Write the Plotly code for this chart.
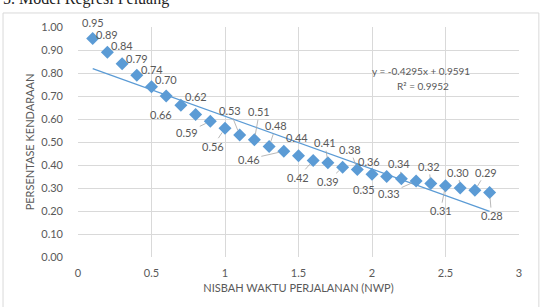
import numpy as np
import plotly.graph_objects as go

# ---- data ----
nwp = [0.1, 0.2, 0.3, 0.4, 0.5, 0.6, 0.7, 0.8, 0.9, 1.0,
       1.1, 1.2, 1.3, 1.4, 1.5, 1.6, 1.7, 1.8, 1.9, 2.0,
       2.1, 2.2, 2.3, 2.4, 2.5, 2.6, 2.7, 2.8]
persen = [0.95, 0.89, 0.84, 0.79, 0.74, 0.70, 0.66, 0.62, 0.59, 0.56,
          0.53, 0.51, 0.48, 0.46, 0.44, 0.42, 0.41, 0.39, 0.38, 0.36,
          0.35, 0.34, 0.33, 0.32, 0.31, 0.30, 0.29, 0.28]
x_ticks = [0, 0.5, 1, 1.5, 2, 2.5, 3]
x_tick_text = ["0", "0.5", "1", "1.5", "2", "2.5", "3"]
y_ticks = [0.0, 0.1, 0.2, 0.3, 0.4, 0.5, 0.6, 0.7, 0.8, 0.9, 1.0]
eq_text = "y = -0.4295x + 0.9591"
r2_text = "R² = 0.9952"
title_text = "5. Model Regresi Peluang"
x_title = "NISBAH WAKTU PERJALANAN (NWP)"
y_title = "PERSENTASE KENDARAAN"

# label offsets (pixels) and leader-line flags, Excel style placement
label_dx = [0, 0, 0, 0, 0, 0, -20, 0, -23, -12,
            -10, 5, 7, -35, -2, -15, -3, -15, -7, -3,
            -23, -2, -27, -2, -5, -2, 11, 2]
label_dy = [-16, -18, -18, -17, -17, -17, 9, -18, 11, 18,
            -25, -28, -21, 8, -18, 17, -20, 14, -20, -13,
            13, -15, 12, -17, 25, -16, -18, 23]
leader = [0, 0, 0, 0, 0, 0, 0, 0, 1, 1,
          1, 1, 1, 1, 0, 1, 1, 1, 1, 0,
          0, 1, 1, 1, 1, 1, 1, 1]

BLUE = "#5B9BD5"
TXT = "#595959"
GRID = "#D9D9D9"
FONT = "Lato, Open Sans, sans-serif"

fig = go.Figure()

# linear trendline from least squares fit of the data
slope, intercept = np.polyfit(nwp, persen, 1)
tx = [min(nwp), max(nwp)]
ty = [slope * v + intercept for v in tx]
fig.add_trace(go.Scatter(x=tx, y=ty, mode="lines",
                         line=dict(color=BLUE, width=1.3),
                         hoverinfo="skip", showlegend=False))

fig.add_trace(go.Scatter(x=nwp, y=persen, mode="markers",
                         marker=dict(symbol="diamond", size=10, color=BLUE),
                         showlegend=False))

for xv, yv, dx, dy, ld in zip(nwp, persen, label_dx, label_dy, leader):
    fig.add_annotation(x=xv, y=yv, text=f"{yv:.2f}", xref="x", yref="y",
                       showarrow=True, ax=dx, ay=dy, arrowhead=0,
                       arrowwidth=0.8, standoff=5,
                       arrowcolor="#A6A6A6" if ld else "rgba(0,0,0,0)",
                       font=dict(family=FONT, size=11, color=TXT))

fig.add_annotation(x=2.333, y=0.809, text=eq_text, showarrow=False,
                   xref="x", yref="y",
                   font=dict(family=FONT, size=10, color=TXT))
fig.add_annotation(x=2.347, y=0.743, text=r2_text, showarrow=False,
                   xref="x", yref="y",
                   font=dict(family=FONT, size=10, color=TXT))

# cropped caption at top
fig.add_annotation(x=-0.175, y=1.075, xref="paper", yref="paper",
                   xanchor="left", yanchor="bottom", text=title_text,
                   showarrow=False,
                   font=dict(family="Liberation Serif, serif", size=16, color="#222222"))

# chart border
fig.add_shape(type="rect", xref="paper", yref="paper",
              x0=-0.170, x1=1.045, y0=-0.25, y1=1.061,
              line=dict(color=GRID, width=1), layer="below")

fig.update_layout(
    width=545, height=307,
    margin=dict(l=78, r=26, t=27, b=50),
    paper_bgcolor="white", plot_bgcolor="white",
    font=dict(family=FONT, color=TXT),
)
fig.update_xaxes(range=[0, 3], tickvals=x_ticks, ticktext=x_tick_text,
                 showgrid=True, gridcolor=GRID, gridwidth=1,
                 zeroline=False, showline=False, ticks="",
                 tickfont=dict(family=FONT, size=11, color=TXT),
                 ticklabelstandoff=8,
                 title=dict(text=x_title, standoff=6,
                            font=dict(family=FONT, size=11, color=TXT)))
fig.update_yaxes(range=[0, 1], tickvals=y_ticks, tickformat=".2f",
                 showgrid=True, gridcolor=GRID, gridwidth=1,
                 zeroline=False, showline=False, ticks="",
                 tickfont=dict(family=FONT, size=11, color=TXT),
                 ticklabelstandoff=14,
                 title=dict(text=y_title, standoff=4,
                            font=dict(family=FONT, size=11, color=TXT)))

fig.write_html("out.html")
